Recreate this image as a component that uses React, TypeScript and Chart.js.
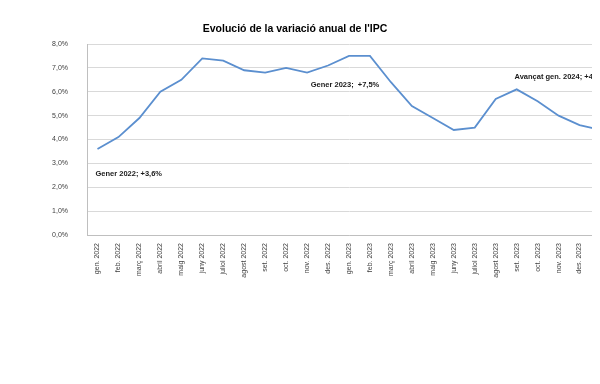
import React, { useEffect, useRef } from "react";
import { Chart, registerables } from "chart.js";

Chart.register(...registerables);

const categories = [
  "gen. 2022", "feb. 2022", "març 2022", "abril 2022", "maig 2022", "juny 2022",
  "juliol 2022", "agost 2022", "set. 2022", "oct. 2022", "nov. 2022", "des. 2022",
  "gen. 2023", "feb. 2023", "març 2023", "abril 2023", "maig 2023", "juny 2023",
  "juliol 2023", "agost 2023", "set. 2023", "oct. 2023", "nov. 2023", "des. 2023",
  "gen. 2024",
];
const ipcValues = [
  3.6, 4.1, 4.9, 6.0, 6.5, 7.4, 7.3, 6.9, 6.8, 7.0, 6.8, 7.1,
  7.5, 7.5, 6.4, 5.4, 4.9, 4.4, 4.5, 5.7, 6.1, 5.6, 5.0, 4.6,
  4.4,
];
const titleText = "Evolució de la variació anual de l'IPC";
const noteTexts = ["Gener 2022; +3,6%", "Gener 2023;  +7,5%", "Avançat gen. 2024; +4,4%"];
const noteIndex = [0, 12, 24];
const noteValue = [2.55, 6.28, 6.62];

const FONT = "'Liberation Sans', Arial, sans-serif";

const notesLayout = [
  { dx: -2, align: "left" as CanvasTextAlign },
  { dx: -4, align: "center" as CanvasTextAlign },
  { dx: -86, align: "left" as CanvasTextAlign },
];

const extrasPlugin = {
  id: "extras",
  afterDraw(chart: any) {
    const ctx = chart.ctx;
    const xs = chart.scales.x;
    const ys = chart.scales.y;
    ctx.save();
    ctx.fillStyle = "#000000";
    ctx.font = `bold 10.5px ${FONT}`;
    ctx.textAlign = "center";
    ctx.textBaseline = "middle";
    ctx.fillText(titleText, 287, 21);
    ctx.font = `bold 7.5px ${FONT}`;
    ctx.fillStyle = "#1a1a1a";
    noteTexts.forEach((t, i) => {
      const x = xs.getPixelForValue(noteIndex[i]) + notesLayout[i].dx;
      const y = ys.getPixelForValue(noteValue[i]);
      ctx.textAlign = notesLayout[i].align;
      ctx.fillText(t, x, y);
    });
    ctx.restore();
  },
};

export default function App() {
  const ref = useRef<HTMLCanvasElement>(null);
  useEffect(() => {
    if (!ref.current) return;
    const chart = new Chart(ref.current, {
      type: "line",
      data: {
        labels: categories,
        datasets: [
          {
            data: ipcValues,
            borderColor: "#5b8fcf",
            borderWidth: 1.8,
            pointRadius: 0,
            tension: 0,
            fill: false,
          },
        ],
      },
      options: {
        responsive: false,
        animation: false,
        layout: { padding: { top: 36, right: 7, left: 0, bottom: 0 } },
        plugins: {
          legend: { display: false },
          title: { display: false },
          tooltip: { enabled: false },
        },
        scales: {
          x: {
            offset: true,
            grid: { display: false, offset: true },
            border: { display: true, color: "#bfbfbf", width: 1 },
            ticks: {
              autoSkip: false,
              maxRotation: 90,
              minRotation: 90,
              padding: 0,
              color: "#404040",
              font: { family: FONT, size: 7 },
            },
            afterFit: (s: any) => {
              s.height = 50;
            },
          },
          y: {
            min: 0,
            max: 8,
            grid: { color: "#d9d9d9", drawTicks: false },
            border: { display: true, color: "#bfbfbf", width: 1 },
            ticks: {
              stepSize: 1,
              padding: 19,
              color: "#404040",
              font: { family: FONT, size: 7 },
              callback: (v: any) => Number(v).toFixed(1).replace(".", ",") + "%",
            },
            afterFit: (s: any) => {
              s.width = 79;
            },
          },
        },
      },
      plugins: [extrasPlugin],
    });
    return () => chart.destroy();
  }, []);
  return (
    <div style={{ width: 592, height: 376, overflow: "hidden", position: "relative", background: "#fff" }}>
      <canvas ref={ref} width={610} height={277} style={{ display: "block" }} />
    </div>
  );
}
